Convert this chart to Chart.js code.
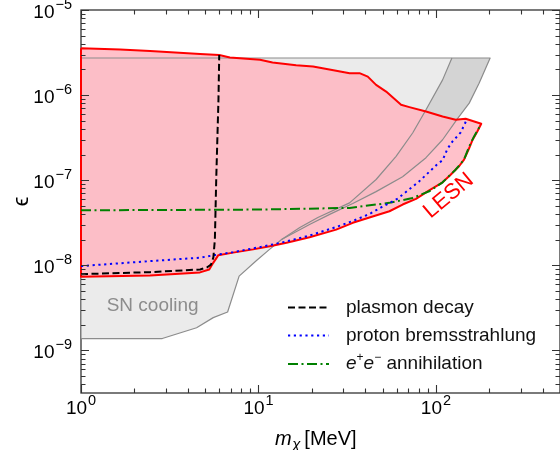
<!DOCTYPE html>
<html>
<head>
<meta charset="utf-8">
<script src="https://cdn.jsdelivr.net/npm/chart.js@4.4.1/dist/chart.umd.min.js"></script>
<style>
  html, body { margin:0; padding:0; background:#fff; }
  #wrap { width:560px; height:450px; }
</style>
</head>
<body>
<div id="wrap"><canvas id="limitChart" width="560" height="450"></canvas></div>
<script>

/* DATA (m_chi in MeV, epsilon) */

// LESN excluded region: upper edge left->right, then lower edge right->left
const lesnMass = [1, 1.66, 2.45, 4.69, 6.01, 6.90, 10.2, 12.0, 16.3, 20.3, 27.4, 32.6, 37.1, 41.3, 46.0, 52.4, 63.6, 70.8, 87.9, 109, 129, 147, 180,
                  171, 161, 154, 144, 135, 121, 109, 91.6, 77.2, 64.9, 54.7, 42.2, 34.0, 27.4, 19.4, 14.4, 11.6, 9.33, 7.20, 5.93, 5.56, 5.28, 4.68, 2.45, 1];
const lesnEps  = [3.56e-6, 3.44e-6, 3.30e-6, 3.05e-6, 2.96e-6, 2.76e-6, 2.60e-6, 2.41e-6, 2.25e-6, 2.17e-6, 1.93e-6, 1.81e-6, 1.81e-6, 1.65e-6, 1.32e-6, 1.10e-6, 7.69e-7, 7.23e-7, 6.42e-7, 5.61e-7, 5.13e-7, 5.27e-7, 4.61e-7,
                  3.74e-7, 2.99e-7, 2.39e-7, 1.75e-7, 1.46e-7, 1.16e-7, 9.45e-8, 7.61e-8, 6.04e-8, 5.18e-8, 4.32e-8, 3.65e-8, 3.16e-8, 2.63e-8, 2.14e-8, 1.84e-8, 1.68e-8, 1.54e-8, 1.41e-8, 1.31e-8, 1.07e-8, 8.95e-9, 8.26e-9, 7.62e-9, 7.35e-9];

// SN cooling region
const snTopEps = 2.73e-6;
const snOuterMass = [202, 175, 154, 132, 109, 87.9, 64.9, 46.0, 34.0, 25.7, 19.4];
const snOuterEps  = [2.73e-6, 1.38e-6, 8.05e-7, 5.27e-7, 2.99e-7, 1.84e-7, 1.10e-7, 7.35e-8, 5.32e-8, 4.05e-8, 3.02e-8];
const snInnerMass = [123, 109, 87.9, 73.9, 59.6, 46.0, 32.6, 21.6, 17.1];
const snInnerEps  = [2.73e-6, 1.51e-6, 6.73e-7, 3.59e-7, 1.91e-7, 1.02e-7, 5.42e-8, 3.65e-8, 2.78e-8];
const snLowMass = [13.5, 11.5, 9.75, 7.78, 6.70, 5.56, 4.48, 2.87, 1];
const snLowEps  = [2.01e-8, 1.53e-8, 1.14e-8, 7.46e-9, 2.83e-9, 2.43e-9, 1.85e-9, 1.38e-9, 1.38e-9];

// production channels
const plasmonMass = [1, 2.45, 4.69, 5.12, 5.40, 5.57, 5.68, 5.78, 5.95, 6.01];
const plasmonEps  = [7.88e-9, 8.32e-9, 8.95e-9, 9.44e-9, 1.02e-8, 1.24e-8, 2.01e-8, 1.02e-7, 8.81e-7, 2.96e-6];

const bremMass = [1, 2.45, 4.69, 5.68, 7.20, 9.33, 11.6, 14.4, 19.4, 27.4, 34.0, 42.2, 50.1, 60.9, 80.5, 101, 109, 116, 124, 138, 149];
const bremEps  = [9.80e-9, 1.12e-8, 1.23e-8, 1.32e-8, 1.43e-8, 1.58e-8, 1.73e-8, 1.91e-8, 2.24e-8, 2.82e-8, 3.32e-8, 4.01e-8, 4.91e-8, 6.09e-8, 9.70e-8, 1.52e-7, 1.72e-7, 2.33e-7, 2.86e-7, 3.65e-7, 5.13e-7];

const annMass = [1, 10, 32.6, 54.7, 73.9, 91.6, 109, 129, 144, 154, 164, 179];
const annEps  = [4.43e-8, 4.52e-8, 4.73e-8, 5.42e-8, 6.19e-8, 7.41e-8, 9.45e-8, 1.33e-7, 1.75e-7, 2.50e-7, 3.27e-7, 4.49e-7];

// axes
const xMin = 1, xMax = 500;
const yMin = Math.pow(10, -9.5), yMax = 1e-5;
const xMajor = [1, 10, 100];
const xMajorExp = ["0", "1", "2"];
const yMajor = [1e-5, 1e-6, 1e-7, 1e-8, 1e-9];
const yMajorExp = ["\u22125", "\u22126", "\u22127", "\u22128", "\u22129"];

const legendLabels = ["plasmon decay", "proton bremsstrahlung", "e+e- annihilation"];

/* helpers */

const FONT = "'Liberation Sans', Arial, Helvetica, sans-serif";

function pts(xs, ys){
    return xs.map((x, i) => ({x: x, y: ys[i]}));
}

function closed(list){
    return list.concat([list[0]]);
}

const lesnShape = closed(pts(lesnMass, lesnEps));

const snLight = closed(
    [{x: 1, y: snTopEps}]
    .concat(pts(snOuterMass, snOuterEps))
    .concat(pts(snLowMass, snLowEps))
);

const snBand = closed(
    pts(snInnerMass, snInnerEps)
    .concat(pts(snOuterMass, snOuterEps).reverse())
);

const snInnerLine = pts(snInnerMass, snInnerEps).concat([{x: snLowMass[0], y: snLowEps[0]}]);

/* frame, ticks and text drawn with the scales */

function logTicks(min, max){
    const major = [], minor = [];
    for(let e = Math.floor(Math.log10(min)); e <= Math.ceil(Math.log10(max)); e++){
        for(let k = 1; k < 10; k++){
            const v = k * Math.pow(10, e);
            if(v < min * 0.999 || v > max * 1.001) continue;
            (k === 1 ? major : minor).push(v);
        }
    }
    return {major, minor};
}

function drawPowerLabel(ctx, exp, x, baseline, align){
    ctx.font = "19px " + FONT;
    const wBase = ctx.measureText("10").width;
    ctx.font = "14.5px " + FONT;
    const wExp = ctx.measureText(exp).width;
    const total = wBase + 1 + wExp;
    let x0 = x;
    if(align === "right") x0 = x - total;
    if(align === "center") x0 = x - total / 2;
    ctx.textAlign = "left";
    ctx.textBaseline = "alphabetic";
    ctx.font = "19px " + FONT;
    ctx.fillText("10", x0, baseline);
    ctx.font = "14.5px " + FONT;
    ctx.fillText(exp, x0 + wBase + 1, baseline - 9);
}

const framePlugin = {
    id: "framePlugin",
    beforeDatasetsDraw(chart){
        const {ctx, chartArea: a} = chart;
        ctx.save();
        ctx.strokeStyle = "#333";
        ctx.lineWidth = 1.3;
        ctx.strokeRect(a.left, a.top, a.right - a.left, a.bottom - a.top);
        ctx.restore();
    },
    afterDatasetsDraw(chart){
        const {ctx, chartArea: a, scales} = chart;
        const xs = scales.x, ys = scales.y;
        ctx.save();

        // ticks, pointing inward on all four sides
        ctx.strokeStyle = "#333";
        ctx.lineWidth = 1.1;
        const xt = logTicks(xMin, xMax), yt = logTicks(yMin, yMax);
        ctx.beginPath();
        [[xt.major, 8], [xt.minor, 4.5]].forEach(([vals, len]) => {
            vals.forEach(v => {
                const px = Math.round(xs.getPixelForValue(v)) + 0.5;
                ctx.moveTo(px, a.bottom); ctx.lineTo(px, a.bottom - len);
                ctx.moveTo(px, a.top); ctx.lineTo(px, a.top + len);
            });
        });
        [[yt.major, 8], [yt.minor, 4.5]].forEach(([vals, len]) => {
            vals.forEach(v => {
                const py = Math.round(ys.getPixelForValue(v)) + 0.5;
                ctx.moveTo(a.left, py); ctx.lineTo(a.left + len, py);
                ctx.moveTo(a.right, py); ctx.lineTo(a.right - len, py);
            });
        });
        ctx.stroke();

        // tick labels
        ctx.fillStyle = "#000";
        xMajor.forEach((v, i) => {
            drawPowerLabel(ctx, xMajorExp[i], xs.getPixelForValue(v), a.bottom + 21, "center");
        });
        yMajor.forEach((v, i) => {
            drawPowerLabel(ctx, yMajorExp[i], a.left - 9, ys.getPixelForValue(v) + 7.5, "right");
        });

        // axis titles
        ctx.textBaseline = "alphabetic";
        ctx.textAlign = "left";
        ctx.font = "italic 20px " + FONT;
        let tx = 275;
        const ty = a.bottom + 52;
        ctx.fillText("m", tx, ty);
        tx += ctx.measureText("m").width + 0.5;
        ctx.font = "italic 15px " + FONT;
        ctx.fillText("\u03c7", tx, ty + 4);
        tx += ctx.measureText("\u03c7").width + 4;
        ctx.font = "20px " + FONT;
        ctx.fillText("[MeV]", tx, ty);

        ctx.save();
        ctx.translate(22, (a.top + a.bottom) / 2);
        ctx.rotate(-Math.PI / 2);
        ctx.textAlign = "center";
        ctx.textBaseline = "middle";
        ctx.font = "22px " + FONT;
        ctx.fillText("\u03f5", 0, 0);
        ctx.restore();

        // region labels
        ctx.fillStyle = "#8c8c8c";
        ctx.font = "19px " + FONT;
        ctx.textAlign = "left";
        ctx.fillText("SN cooling", xs.getPixelForValue(1.395), ys.getPixelForValue(2.93e-9));

        ctx.save();
        ctx.translate(xs.getPixelForValue(118), ys.getPixelForValue(6.56e-8));
        ctx.rotate(-40 * Math.PI / 180);
        ctx.fillStyle = "#ff0000";
        ctx.font = "22px " + FONT;
        ctx.textAlign = "center";
        ctx.textBaseline = "middle";
        ctx.fillText("LESN", 0, 0);
        ctx.restore();

        // legend
        const styles = [
            {color: "#000000", dash: [7, 3.5]},
            {color: "#0000ff", dash: [2.2, 3.6]},
            {color: "#008000", dash: [10, 3.5, 2, 3.5]}
        ];
        const rows = [307.5, 335.5, 364];
        rows.forEach((ry, i) => {
            ctx.strokeStyle = styles[i].color;
            ctx.lineWidth = 2;
            ctx.setLineDash(styles[i].dash);
            ctx.beginPath();
            ctx.moveTo(288, ry);
            ctx.lineTo(329, ry);
            ctx.stroke();
            ctx.setLineDash([]);
            ctx.fillStyle = "#111";
            ctx.textBaseline = "middle";
            ctx.textAlign = "left";
            if(i < 2){
                ctx.font = "19px " + FONT;
                ctx.fillText(legendLabels[i], 346, ry);
            }else{
                let lx = 346;
                ctx.font = "italic 19px " + FONT;
                ctx.fillText("e", lx, ry);
                lx += ctx.measureText("e").width;
                ctx.font = "12px " + FONT;
                ctx.fillText("+", lx, ry - 6);
                lx += ctx.measureText("+").width;
                ctx.font = "italic 19px " + FONT;
                ctx.fillText("e", lx, ry);
                lx += ctx.measureText("e").width;
                ctx.font = "12px " + FONT;
                ctx.fillText("\u2212", lx, ry - 6);
                lx += ctx.measureText("\u2212").width;
                ctx.font = "19px " + FONT;
                ctx.fillText(" annihilation", lx, ry);
            }
        });

        ctx.restore();
    }
};

/* CHART */

const baseLine = {
    showLine: true,
    pointRadius: 0,
    pointHoverRadius: 0,
    tension: 0,
    fill: false,
    borderJoinStyle: "round"
};

const ctx = document.getElementById("limitChart");

const limitChart = new Chart(ctx, {
    type: "scatter",
    data: {
        datasets: [
            Object.assign({}, baseLine, {
                label: "plasmon decay",
                data: pts(plasmonMass, plasmonEps),
                borderColor: "#000000",
                borderWidth: 2,
                borderDash: [7, 3.5],
                order: 1
            }),
            Object.assign({}, baseLine, {
                label: "proton bremsstrahlung",
                data: pts(bremMass, bremEps),
                borderColor: "#0000ff",
                borderWidth: 2,
                borderDash: [2.2, 3.6],
                order: 2
            }),
            Object.assign({}, baseLine, {
                label: "e+e- annihilation",
                data: pts(annMass, annEps),
                borderColor: "#008000",
                borderWidth: 2,
                borderDash: [10, 3.5, 2, 3.5],
                order: 3
            }),
            Object.assign({}, baseLine, {
                label: "LESN",
                data: lesnShape,
                borderColor: "#ff0000",
                borderWidth: 2,
                clip: false,
                order: 4
            }),
            Object.assign({}, baseLine, {
                label: "SN inner edge",
                data: snInnerLine,
                borderColor: "#8c8c8c",
                borderWidth: 1.2,
                order: 5
            }),
            Object.assign({}, baseLine, {
                label: "SN edge",
                data: snLight,
                borderColor: "#8c8c8c",
                borderWidth: 1.2,
                order: 6
            }),
            Object.assign({}, baseLine, {
                label: "LESN fill",
                data: lesnShape,
                borderWidth: 0,
                borderColor: "rgba(0,0,0,0)",
                backgroundColor: "rgba(255,182,193,0.85)",
                fill: "shape",
                order: 7
            }),
            Object.assign({}, baseLine, {
                label: "SN band",
                data: snBand,
                borderWidth: 0,
                borderColor: "rgba(0,0,0,0)",
                backgroundColor: "#d4d4d4",
                fill: "shape",
                order: 8
            }),
            Object.assign({}, baseLine, {
                label: "SN cooling",
                data: snLight,
                borderWidth: 0,
                borderColor: "rgba(0,0,0,0)",
                backgroundColor: "#ebebeb",
                fill: "shape",
                order: 9
            })
        ]
    },
    options: {
        responsive: false,
        animation: false,
        layout: {
            padding: {left: 81, top: 10, right: 0, bottom: 57}
        },
        scales: {
            x: {type: "logarithmic", min: xMin, max: xMax, display: false},
            y: {type: "logarithmic", min: yMin, max: yMax, display: false}
        },
        plugins: {
            legend: {display: false},
            tooltip: {enabled: false}
        }
    },
    plugins: [framePlugin]
});

</script>
</body>
</html>
